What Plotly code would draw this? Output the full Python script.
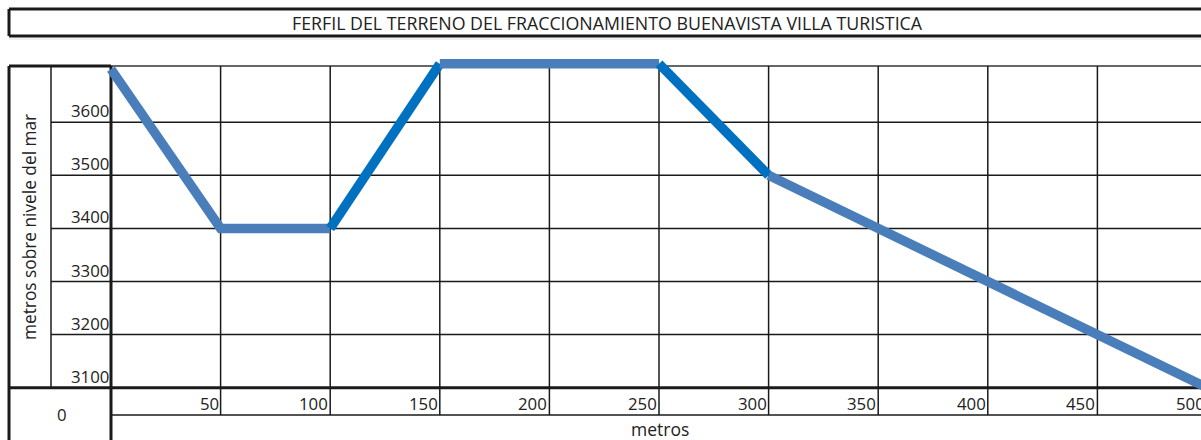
import plotly.graph_objects as go

# ---- data ----
distance_m = [0, 50, 100, 150, 200, 250, 300, 350, 400, 450, 500]
elevation_m = [3700, 3400, 3400, 3710, 3710, 3710, 3500, 3400, 3300, 3200, 3100]
# colour group of each segment (between consecutive points)
segment_shade = ["light", "light", "dark", "light", "light", "dark", "light", "light", "light", "light"]
x_tick_vals = [50, 100, 150, 200, 250, 300, 350, 400, 450, 500]
x_tick_text = ["50", "100", "150", "200", "250", "300", "350", "400", "450", "500"]
y_tick_vals = [3100, 3200, 3300, 3400, 3500, 3600]
y_tick_text = ["3100", "3200", "3300", "3400", "3500", "3600"]
title_text = "FERFIL DEL TERRENO DEL FRACCIONAMIENTO BUENAVISTA VILLA TURISTICA"
x_title = "metros"
y_title = "metros sobre nivele del mar"
origin_text = "0"

W, H = 1201, 440
COL_PX = 109.6        # pixels per 50 m
X0_PX = 111           # pixel of x=0
ROW_PX = 53.1         # pixels per 100 m elevation
Y0_PX = 387.7         # pixel of 3100
x_min = -X0_PX / COL_PX * 50
x_max = (W - X0_PX) / COL_PX * 50
y_max = 3100 + Y0_PX / ROW_PX * 100
y_min = 3100 - (H - Y0_PX) / ROW_PX * 100

def px_x(p):
    return p / W

def px_y(p):
    return 1 - p / H

def data_x_to_px(v):
    return X0_PX + v / 50 * COL_PX

def data_y_to_px(v):
    return Y0_PX - (v - 3100) / 100 * ROW_PX

colors = {"light": "#4a7ebb", "dark": "#0070c0"}
FONT = "Open Sans, Noto Sans, Arial"
TXT = "#222222"

fig = go.Figure()

# group consecutive segments with the same shade
i = 0
n = len(segment_shade)
while i < n:
    j = i
    while j + 1 < n and segment_shade[j + 1] == segment_shade[i]:
        j += 1
    fig.add_trace(go.Scatter(
        x=distance_m[i:j + 2], y=elevation_m[i:j + 2], mode="lines",
        line=dict(color=colors[segment_shade[i]], width=9.5),
        showlegend=False, hoverinfo="x+y"))
    i = j + 1

shapes = []
def line_px(x0, y0, x1, y1, w=1.5, c="#1a1a1a"):
    shapes.append(dict(type="line", xref="paper", yref="paper",
                       x0=px_x(x0), y0=px_y(y0), x1=px_x(x1), y1=px_y(y1),
                       line=dict(color=c, width=w), layer="below"))

top_px = 66
label_row_bottom = 415
# title box
line_px(9, 9, W + 5, 9, 3)
line_px(9, 36, W + 5, 36, 3)
line_px(9, 9, 9, 36, 3)
line_px(9, 39, W + 5, 39, 1, "#e0e0e0")
# outer grid frame
line_px(9, top_px, X0_PX, top_px, 3)
line_px(X0_PX, top_px, W + 5, top_px, 1.5, "#333333")
line_px(9, top_px, 9, H + 5, 3)
line_px(X0_PX, top_px, X0_PX, H + 5, 3)
line_px(51, top_px, 51, Y0_PX, 1.5)
line_px(9, Y0_PX, W + 5, Y0_PX, 3)
line_px(X0_PX, label_row_bottom, W + 5, label_row_bottom, 1.5)
# vertical grid lines at x ticks
for v in x_tick_vals:
    p = data_x_to_px(v)
    line_px(p, top_px, p, label_row_bottom, 1.5)
# horizontal grid lines at y ticks (except bottom which is thick)
for v in y_tick_vals[1:]:
    p = data_y_to_px(v)
    line_px(51, p, W + 5, p, 1.5)

annotations = []
def text_px(x, y, t, xanchor="center", yanchor="middle", size=15, angle=0):
    annotations.append(dict(xref="paper", yref="paper", x=px_x(x), y=px_y(y),
                            text=t, showarrow=False, xanchor=xanchor, yanchor=yanchor,
                            textangle=angle, borderpad=0,
                            font=dict(family=FONT, size=size, color=TXT)))

text_px(607, 22.5, title_text, size=17.8)
for v, t in zip(y_tick_vals, y_tick_text):
    text_px(110, data_y_to_px(v) - 11.5, t, xanchor="right", size=16.8)
for v, t in zip(x_tick_vals, x_tick_text):
    text_px(data_x_to_px(v) - 1, 403, t, xanchor="right", size=16.8)
text_px(62, 414, origin_text, size=16.8)
text_px(660, 428.5, x_title, size=17.5)
text_px(30, 227, y_title, size=17.3, angle=-90)

fig.update_layout(
    width=W, height=H, margin=dict(l=0, r=0, t=0, b=0),
    paper_bgcolor="white", plot_bgcolor="white",
    xaxis=dict(range=[x_min, x_max], visible=False, domain=[0, 1]),
    yaxis=dict(range=[y_min, y_max], visible=False, domain=[0, 1]),
    shapes=shapes, annotations=annotations, showlegend=False,
)
fig.write_html("out.html", config={"displayModeBar": False},
               post_script="document.body.style.margin='0';document.body.style.overflow='hidden';")
